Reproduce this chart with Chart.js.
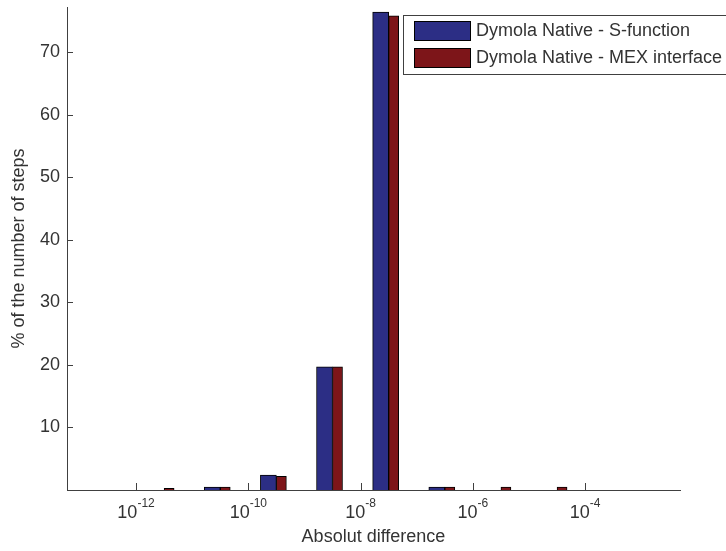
<!DOCTYPE html>
<html><head><meta charset="utf-8">
<script src="https://cdn.jsdelivr.net/npm/chart.js@4/dist/chart.umd.min.js"></script>
<style>html,body{margin:0;padding:0;background:#fff;}#wrap{width:726px;height:551px;}</style>
</head><body><div id="wrap"><canvas id="c" width="726" height="551"></canvas></div>
<script>
// ---- data (exponent of 10 at bin centre, % of steps) ----
const binExponents = [-11.5, -10.5, -9.5, -8.5, -7.5, -6.5, -5.5, -4.5];
const seriesNames = ['Dymola Native - S-function', 'Dymola Native - MEX interface'];
const sFunction = [0, 0.45, 2.4, 19.7, 76.4, 0.45, 0, 0];
const mexInterface = [0.25, 0.45, 2.2, 19.7, 75.8, 0.45, 0.45, 0.45];
const xTickExponents = [-12, -10, -8, -6, -4];
const yTicks = [10, 20, 30, 40, 50, 60, 70];
const xTitle = 'Absolut difference';
const yTitle = '% of the number of steps';

const FONT = '"Liberation Sans", Arial, sans-serif';
const TXT = '#333333';
const AXIS = '#404040';
const BLUE = '#2c2e85';
const RED = '#7d1519';

function toPoints(arr) {
  return arr.map((v, i) => ({ x: binExponents[i], y: v === 0 ? null : v }));
}

const decorPlugin = {
  id: 'decor',
  afterDraw(chart) {
    const ctx = chart.ctx;
    const xs = chart.scales.x, ys = chart.scales.y;
    const ca = chart.chartArea;
    ctx.save();
    // inward tick marks
    ctx.strokeStyle = AXIS;
    ctx.lineWidth = 1;
    ctx.beginPath();
    xTickExponents.forEach(e => {
      const px = Math.round(xs.getPixelForValue(e)) + 0.5;
      ctx.moveTo(px, ca.bottom);
      ctx.lineTo(px, ca.bottom - 7);
    });
    yTicks.forEach(v => {
      const py = Math.round(ys.getPixelForValue(v)) + 0.5;
      ctx.moveTo(ca.left, py);
      ctx.lineTo(ca.left + 6, py);
    });
    ctx.stroke();
    // x tick labels 10^n
    ctx.fillStyle = TXT;
    ctx.textBaseline = 'alphabetic';
    xTickExponents.forEach(e => {
      const px = xs.getPixelForValue(e);
      ctx.font = '18px ' + FONT;
      const wBase = ctx.measureText('10').width;
      ctx.font = '12px ' + FONT;
      const sup = '-' + Math.abs(e);
      const wSup = ctx.measureText(sup).width;
      const start = px - (wBase + wSup) / 2;
      ctx.font = '18px ' + FONT;
      ctx.textAlign = 'left';
      ctx.fillText('10', start, ca.bottom + 28);
      ctx.font = '12px ' + FONT;
      ctx.fillText(sup, start + wBase, ca.bottom + 17);
    });
    // legend
    const lx = 403, ly = 15, lw = 330, lh = 59;
    ctx.fillStyle = '#ffffff';
    ctx.fillRect(lx, ly, lw, lh);
    ctx.strokeStyle = AXIS;
    ctx.strokeRect(lx + 0.5, ly + 0.5, lw, lh);
    chart.data.datasets.forEach((ds, i) => {
      const sy = 21 + i * 27;
      ctx.fillStyle = ds.backgroundColor;
      ctx.fillRect(414, sy, 57, 20);
      ctx.strokeStyle = '#000';
      ctx.strokeRect(414.5, sy + 0.5, 56, 19);
      ctx.fillStyle = TXT;
      ctx.font = '18px ' + FONT;
      ctx.textAlign = 'left';
      ctx.textBaseline = 'middle';
      ctx.fillText(ds.label, 476, sy + 10);
    });
    ctx.restore();
  }
};

new Chart(document.getElementById('c'), {
  type: 'bar',
  data: {
    datasets: [
      { label: seriesNames[0], data: toPoints(sFunction), backgroundColor: BLUE,
        borderColor: '#000', borderWidth: 1, borderSkipped: 'start', barThickness: 16 },
      { label: seriesNames[1], data: toPoints(mexInterface), backgroundColor: RED,
        borderColor: '#000', borderWidth: 1, borderSkipped: 'start', barThickness: 10 }
    ]
  },
  options: {
    responsive: false,
    animation: false,
    layout: { padding: { top: 7, right: 46, left: 0, bottom: 0 } },
    plugins: { legend: { display: false }, tooltip: { enabled: false } },
    scales: {
      x: {
        type: 'linear', offset: false, min: -13.23, max: -2.31,
        grid: { display: false, drawTicks: false },
        border: { display: true, color: AXIS, width: 1 },
        ticks: { display: false },
        afterBuildTicks(s) { s.ticks = xTickExponents.map(v => ({ value: v })); },
        afterFit(s) { s.height = 61; s.paddingLeft = 0; s.paddingRight = 0; },
        title: { display: true, text: xTitle, color: TXT, font: { size: 18, family: FONT },
                 padding: { top: 0, bottom: 3 } }
      },
      y: {
        min: 0, max: 77.2,
        grid: { display: false, drawTicks: false },
        border: { display: true, color: AXIS, width: 1 },
        ticks: { color: TXT, font: { size: 18, family: FONT }, padding: 7 },
        afterBuildTicks(s) { s.ticks = yTicks.map(v => ({ value: v })); },
        afterFit(s) { s.width = 67; s.paddingTop = 0; s.paddingBottom = 0; },
        title: { display: true, text: yTitle, color: TXT, font: { size: 18, family: FONT },
                 padding: { top: 8, bottom: 0 } }
      }
    }
  },
  plugins: [decorPlugin]
});
</script></body></html>
